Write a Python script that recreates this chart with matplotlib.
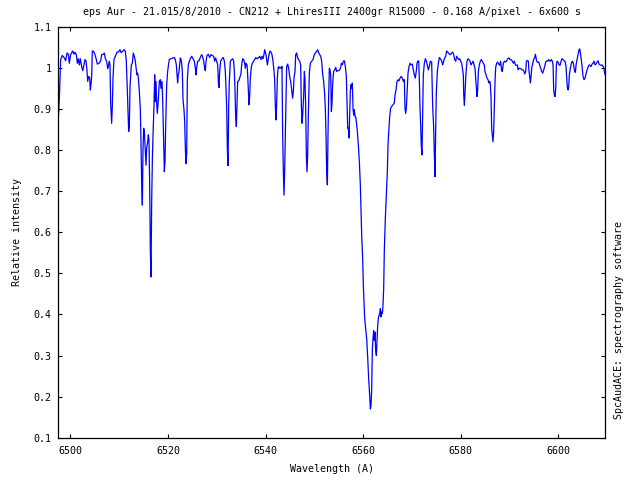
import matplotlib
matplotlib.use("Agg")
import matplotlib.pyplot as plt

# spectrum (wavelength in A, relative intensity)
wavelength = [
    6497.55, 6497.78, 6497.98, 6498.32, 6498.73, 6499.01, 6499.28, 6499.56, 6499.76, 6500.03,
    6500.44, 6500.72, 6500.92, 6501.20, 6501.40, 6501.61, 6501.81, 6502.02, 6502.29, 6502.50,
    6502.70, 6502.97, 6503.18, 6503.38, 6503.52, 6503.73, 6503.93, 6504.07, 6504.20, 6504.34,
    6504.48, 6504.75, 6505.03, 6505.30, 6505.50, 6505.85, 6506.19, 6506.39, 6506.74, 6506.94,
    6507.15, 6507.42, 6507.62, 6507.76, 6507.97, 6508.10, 6508.24, 6508.44, 6508.58, 6508.72,
    6508.92, 6509.27, 6509.54, 6509.81, 6510.15, 6510.36, 6510.70, 6510.97, 6511.25, 6511.45,
    6511.66, 6511.80, 6511.93, 6512.07, 6512.21, 6512.48, 6512.68, 6512.89, 6513.09, 6513.30,
    6513.50, 6513.64, 6513.78, 6513.92, 6514.12, 6514.33, 6514.46, 6514.60, 6514.74, 6514.87,
    6515.01, 6515.15, 6515.28, 6515.49, 6515.62, 6515.83, 6515.97, 6516.10, 6516.24, 6516.38,
    6516.51, 6516.65, 6516.79, 6516.92, 6517.13, 6517.27, 6517.40, 6517.54, 6517.68, 6517.81,
    6518.02, 6518.22, 6518.43, 6518.56, 6518.77, 6518.91, 6519.04, 6519.25, 6519.39, 6519.52,
    6519.73, 6519.93, 6520.14, 6520.27,
    6520.62, 6521.03, 6521.30, 6521.50, 6521.71, 6521.85, 6521.98, 6522.12, 6522.26, 6522.39,
    6522.53, 6522.67, 6522.80, 6522.94, 6523.08, 6523.28, 6523.42, 6523.56, 6523.69, 6523.83,
    6523.97, 6524.17, 6524.38, 6524.58, 6524.86, 6525.13, 6525.40, 6525.61, 6525.74, 6525.88,
    6526.09, 6526.36, 6526.63, 6526.91, 6527.11, 6527.32, 6527.52, 6527.66, 6527.80, 6528.00,
    6528.28, 6528.55, 6528.82, 6529.09, 6529.37, 6529.57, 6529.78, 6529.98, 6530.19, 6530.33,
    6530.46, 6530.60, 6530.80, 6531.08, 6531.35, 6531.56, 6531.76, 6531.90, 6532.04, 6532.17,
    6532.31, 6532.45, 6532.58, 6532.79, 6533.06, 6533.27, 6533.47, 6533.61, 6533.75, 6533.88,
    6534.02, 6534.16, 6534.29, 6534.50, 6534.70, 6534.98, 6535.11, 6535.32, 6535.52, 6535.73,
    6535.86, 6536.00, 6536.21, 6536.34, 6536.48, 6536.62, 6536.75, 6536.89, 6537.10, 6537.30,
    6537.57, 6537.78, 6537.98, 6538.26, 6538.53, 6538.81, 6539.08, 6539.28, 6539.49, 6539.69,
    6539.83, 6539.97, 6540.10, 6540.24, 6540.38, 6540.51, 6540.72, 6540.92, 6541.13, 6541.33,
    6541.54, 6541.75, 6541.88, 6542.02, 6542.16, 6542.29, 6542.43, 6542.57, 6542.70, 6542.84,
    6543.04, 6543.25, 6543.38, 6543.52, 6543.66, 6543.80, 6543.93, 6544.14, 6544.34, 6544.55,
    6544.75, 6544.96, 6545.16, 6545.37, 6545.57, 6545.71, 6545.85, 6546.05, 6546.19, 6546.39,
    6546.60, 6546.80, 6547.01, 6547.21, 6547.35, 6547.49, 6547.62, 6547.83, 6547.97, 6548.10,
    6548.24, 6548.38, 6548.51, 6548.65, 6548.79, 6548.99, 6549.20, 6549.47, 6549.75, 6549.95,
    6550.22, 6550.50, 6550.70, 6550.91, 6551.11, 6551.32, 6551.52, 6551.73, 6551.93, 6552.14,
    6552.27, 6552.41, 6552.55, 6552.69, 6552.82, 6552.96, 6553.10, 6553.23, 6553.37, 6553.51,
    6553.64, 6553.78, 6553.98, 6554.19, 6554.40, 6554.60, 6554.81, 6555.01, 6555.22, 6555.42,
    6555.56, 6555.76, 6555.97, 6556.17, 6556.38, 6556.58, 6556.72, 6556.86, 6556.99, 6557.13,
    6557.27, 6557.40, 6557.54, 6557.68, 6557.81, 6557.95, 6558.09, 6558.22, 6558.36, 6558.50,
    6558.63, 6558.84, 6559.04, 6559.25, 6559.45, 6559.59, 6559.73, 6559.93, 6560.07, 6560.21,
    6560.34, 6560.55, 6560.75, 6560.96, 6561.16, 6561.37, 6561.51, 6561.64, 6561.78, 6561.92,
    6562.05, 6562.19, 6562.33, 6562.46, 6562.60, 6562.74, 6562.87, 6563.01, 6563.15, 6563.28,
    6563.42, 6563.56, 6563.69, 6563.83, 6563.97, 6564.10, 6564.24, 6564.38, 6564.58, 6564.79,
    6564.99,
    6565.13, 6565.26, 6565.47, 6565.67, 6565.88, 6566.15, 6566.42, 6566.56, 6566.77, 6566.97,
    6567.18, 6567.38, 6567.59, 6567.79, 6568.07, 6568.27, 6568.48, 6568.61, 6568.75, 6568.89,
    6569.02, 6569.23, 6569.43, 6569.64, 6569.84, 6570.12, 6570.32, 6570.53, 6570.73, 6570.94,
    6571.07, 6571.28, 6571.42, 6571.55, 6571.69, 6571.83, 6571.96, 6572.10, 6572.24, 6572.37,
    6572.58, 6572.78, 6572.99, 6573.19, 6573.40, 6573.60, 6573.81, 6574.08, 6574.29, 6574.49,
    6574.63, 6574.77, 6574.90, 6575.04, 6575.25, 6575.45, 6575.66, 6575.86, 6576.13, 6576.34,
    6576.54, 6576.75, 6576.96, 6577.16, 6577.37, 6577.57, 6577.78, 6577.98, 6578.19, 6578.39,
    6578.60, 6578.80, 6579.01, 6579.21, 6579.42, 6579.62, 6579.83, 6580.03, 6580.24, 6580.44,
    6580.58, 6580.65, 6580.78, 6580.92, 6581.06, 6581.20, 6581.33, 6581.54, 6581.74, 6581.95,
    6582.15, 6582.36, 6582.56, 6582.77, 6582.97, 6583.11, 6583.25, 6583.38, 6583.52, 6583.66,
    6583.86, 6584.07, 6584.27, 6584.48, 6584.68, 6584.89, 6585.02, 6585.23, 6585.43, 6585.64,
    6585.84, 6585.98, 6586.12, 6586.26, 6586.39, 6586.53, 6586.66, 6586.80, 6586.94, 6587.08,
    6587.21, 6587.42, 6587.62, 6587.83, 6588.03,
    6588.24, 6588.45, 6588.58, 6588.79, 6589.01, 6589.27, 6589.47, 6589.68, 6589.95, 6590.16,
    6590.36, 6590.64, 6590.84, 6591.05, 6591.25, 6591.46, 6591.66, 6591.80, 6592.00, 6592.21,
    6592.41, 6592.62, 6592.82, 6593.03, 6593.17, 6593.37, 6593.51, 6593.71, 6593.92, 6594.05,
    6594.19, 6594.33, 6594.47, 6594.60, 6594.81, 6595.01, 6595.22, 6595.35, 6595.49, 6595.63,
    6595.83, 6596.04, 6596.24, 6596.45, 6596.65, 6596.86, 6597.06, 6597.27, 6597.47, 6597.68,
    6597.88, 6598.09, 6598.23, 6598.43, 6598.64, 6598.84, 6598.98, 6599.11, 6599.25, 6599.39,
    6599.53, 6599.66, 6599.80, 6600.00, 6600.21, 6600.41, 6600.62, 6600.82, 6601.03, 6601.23,
    6601.44, 6601.64, 6601.78, 6601.92, 6602.06, 6602.19, 6602.33, 6602.53, 6602.74, 6602.94,
    6603.15, 6603.29, 6603.42, 6603.56, 6603.70, 6603.90, 6604.11, 6604.31, 6604.45, 6604.59,
    6604.72, 6604.86, 6605.00, 6605.13, 6605.34, 6605.54, 6605.75, 6605.95, 6606.16, 6606.36,
    6606.57, 6606.77, 6606.98, 6607.18, 6607.39, 6607.59, 6607.80, 6608.00, 6608.21, 6608.41,
    6608.62, 6608.82, 6609.03, 6609.24, 6609.37, 6609.51, 6609.65,
]

intensity = [
    0.885, 0.946, 1.020, 1.030, 1.024, 1.017, 1.036, 1.033, 1.011, 1.032,
    1.041, 1.033, 1.038, 1.032, 1.011, 1.022, 1.007, 1.022, 1.003, 0.993,
    1.003, 1.020, 1.016, 0.995, 0.967, 0.979, 0.976, 0.946, 0.959, 0.979,
    1.041, 1.040, 1.032, 1.020, 1.009, 1.011, 1.017, 1.032, 1.033, 1.036,
    1.022, 1.016, 0.998, 1.003, 1.016, 1.007, 0.914, 0.865, 0.906, 0.975,
    1.020, 1.030, 1.038, 1.038, 1.044, 1.037, 1.040, 1.044, 1.040, 1.016,
    0.946, 0.889, 0.845, 0.857, 0.954, 1.007, 1.011, 1.036, 1.028, 1.016,
    0.995, 0.983, 0.987, 0.975, 0.942, 0.898, 0.820, 0.719, 0.666, 0.800,
    0.853, 0.845, 0.812, 0.763, 0.804, 0.820, 0.837, 0.824, 0.715, 0.556,
    0.491, 0.670, 0.776, 0.833, 0.910, 0.983, 0.918, 0.967, 0.914, 0.889,
    0.922, 0.967, 0.971, 0.950, 0.967, 0.922, 0.857, 0.747, 0.772, 0.857,
    0.959, 0.991, 1.011, 1.020,
    1.022, 1.024, 1.025, 1.020, 1.007, 0.983, 0.963, 0.983, 0.991, 1.007,
    1.024, 1.020, 1.011, 0.991, 0.922, 0.898, 0.869, 0.804, 0.767, 0.792,
    0.971, 1.007, 1.016, 1.022, 1.028, 1.022, 1.016, 0.999, 0.983, 1.001,
    1.016, 1.017, 1.025, 1.032, 1.027, 1.016, 0.999, 0.993, 1.016, 1.030,
    1.033, 1.025, 1.032, 1.030, 1.028, 1.016, 1.024, 1.016, 1.007, 0.967,
    0.952, 0.991, 1.016, 1.022, 1.025, 1.016, 0.991, 0.950, 0.902, 0.804,
    0.762, 0.910, 0.967, 1.016, 1.020, 1.022, 1.016, 0.991, 0.946, 0.881,
    0.857, 0.910, 0.967, 0.968, 0.975, 0.987, 1.007, 1.022, 1.020, 1.011,
    0.999, 1.011, 1.007, 0.983, 0.946, 0.910, 0.930, 0.975, 1.003, 1.011,
    1.016, 1.020, 1.025, 1.022, 1.024, 1.028, 1.020, 1.028, 1.022, 1.033,
    1.044, 1.038, 1.032, 1.020, 1.007, 1.016, 1.032, 1.041, 1.038, 1.032,
    1.016, 0.991, 0.971, 0.906, 0.873, 0.914, 0.975, 0.999, 1.003, 0.999,
    1.001, 0.998, 1.003, 0.837, 0.747, 0.690, 0.751, 0.885, 1.003, 1.009,
    0.999, 0.979, 0.967, 0.946, 0.926, 0.942, 0.975, 0.991, 1.032, 1.036,
    1.024, 1.020, 1.016, 1.007, 0.910, 0.865, 0.885, 0.934, 0.991, 0.971,
    0.902, 0.788, 0.747, 0.792, 0.885, 0.987, 1.011, 1.016, 1.020, 1.030,
    1.036, 1.040, 1.044, 1.036, 1.032, 1.028, 1.016, 0.983, 0.967, 0.934,
    0.902, 0.837, 0.747, 0.715, 0.837, 0.934, 0.999, 0.995, 0.983, 0.894,
    0.914, 0.963, 0.991, 0.995, 1.001, 0.991, 0.993, 0.993, 0.995, 1.001,
    1.011, 1.007, 1.016, 1.017, 1.003, 0.979, 0.914, 0.853, 0.853, 0.829,
    0.885, 0.942, 0.959, 0.950, 0.963, 0.902, 0.885, 0.898, 0.881, 0.881,
    0.869, 0.845, 0.812, 0.772, 0.715, 0.654, 0.593, 0.536, 0.471, 0.426,
    0.390, 0.365, 0.341, 0.296, 0.243, 0.203, 0.170, 0.178, 0.219, 0.316,
    0.341, 0.361, 0.337, 0.357, 0.312, 0.300, 0.333, 0.373, 0.390, 0.398,
    0.402, 0.414, 0.394, 0.406, 0.402, 0.422, 0.463, 0.560, 0.633, 0.690,
    0.747,
    0.812, 0.841, 0.881, 0.902, 0.906, 0.910, 0.914, 0.934, 0.946, 0.967,
    0.971, 0.968, 0.975, 0.979, 0.975, 0.967, 0.971, 0.902, 0.889, 0.902,
    0.934, 0.987, 1.003, 1.011, 1.007, 1.009, 0.995, 0.983, 0.975, 0.993,
    1.011, 1.017, 1.016, 0.975, 0.902, 0.861, 0.808, 0.788, 0.885, 0.983,
    1.011, 1.022, 1.017, 1.006, 0.995, 1.003, 1.016, 1.014, 0.906, 0.857,
    0.788, 0.735, 0.845, 0.942, 0.991, 1.011, 1.025, 1.022, 1.017, 1.007,
    1.016, 1.024, 1.028, 1.041, 1.038, 1.036, 1.032, 1.033, 1.036, 1.038,
    1.032, 1.020, 1.016, 1.028, 1.024, 1.020, 1.022, 1.016, 1.011, 0.995,
    0.983, 0.938, 0.908, 0.938, 0.975, 0.999, 1.016, 1.022, 1.020, 1.016,
    1.007, 1.011, 1.016, 1.007, 0.999, 0.975, 0.950, 0.930, 0.946, 0.991,
    1.007, 1.016, 1.020, 1.016, 1.011, 1.007, 0.991, 0.983, 0.975, 0.971,
    0.963, 0.967, 0.959, 0.926, 0.853, 0.837, 0.820, 0.845, 0.910, 0.967,
    1.001, 1.011, 1.014, 1.009, 1.006,
    1.016, 0.993, 0.991, 1.011, 1.016, 1.014, 1.017, 1.022, 1.024, 1.020,
    1.020, 1.016, 1.011, 1.016, 1.007, 1.006, 1.007, 0.995, 0.999, 0.998,
    0.998, 0.995, 0.995, 0.991, 0.985, 0.991, 1.016, 1.018, 1.016, 0.991,
    0.979, 0.963, 0.979, 0.999, 1.011, 1.020, 1.025, 1.033, 1.024, 1.016,
    1.013, 1.014, 1.007, 0.999, 0.991, 0.987, 0.995, 1.003, 1.014, 1.017,
    1.016, 1.020, 1.017, 1.016, 1.020, 1.016, 1.007, 0.946, 0.934, 0.930,
    0.950, 1.007, 1.016, 1.014, 1.007, 1.006, 1.016, 1.022, 1.020, 1.017,
    1.016, 1.003, 0.975, 0.952, 0.946, 0.954, 0.983, 0.999, 1.011, 1.016,
    1.011, 0.999, 0.991, 0.989, 1.007, 1.020, 1.032, 1.044, 1.046, 1.036,
    1.024, 1.011, 0.995, 0.979, 0.971, 0.975, 0.985, 0.995, 1.001, 1.007,
    1.006, 1.003, 1.009, 1.011, 1.016, 1.007, 1.009, 1.014, 1.017, 1.009,
    1.007, 1.006, 1.007, 1.003, 1.001, 0.991, 0.983,
]

x_ticks = [6500, 6520, 6540, 6560, 6580, 6600]
y_ticks = [0.1, 0.2, 0.3, 0.4, 0.5, 0.6, 0.7, 0.8, 0.9, 1.0, 1.1]
y_labels = ["0.1", "0.2", "0.3", "0.4", "0.5", "0.6", "0.7", "0.8", "0.9", "1", "1.1"]

title = "eps Aur - 21.015/8/2010 - CN212 + LhiresIII 2400gr R15000 - 0.168 A/pixel - 6x600 s"

plt.rcParams['font.family'] = 'DejaVu Sans Mono'
fs = 7.2

fig = plt.figure(figsize=(6.4, 4.8), dpi=100)
ax = fig.add_axes([0.0911, 0.0881, 0.8547, 0.8563])
ax.plot(wavelength, intensity, color='#0000ff', linewidth=0.9)

ax.set_xlim(6497.5, 6609.7)
ax.set_ylim(0.1, 1.1)
ax.set_xticks(x_ticks)
ax.set_xticklabels([str(t) for t in x_ticks])
ax.set_yticks(y_ticks)
ax.set_yticklabels(y_labels)
ax.tick_params(direction='in', length=3.2, width=0.8, top=True, right=True,
               labelsize=fs, colors='black')
ax.tick_params(axis='y', pad=5)
ax.tick_params(axis='x', pad=6)
for s in ax.spines.values():
    s.set_linewidth(0.9)

fig.text(0.519, 0.975, title, ha='center', va='center', fontsize=fs)
fig.text(0.519, 0.022, "Wavelength (A)", ha='center', va='center', fontsize=fs)
fig.text(0.027, 0.516, "Relative intensity", ha='center', va='center',
         rotation=90, fontsize=fs)
fig.text(0.967, 0.128, "SpcAudACE: spectrography software", ha='center', va='bottom',
         rotation=90, fontsize=fs)

fig.savefig("out.png", dpi=100)
